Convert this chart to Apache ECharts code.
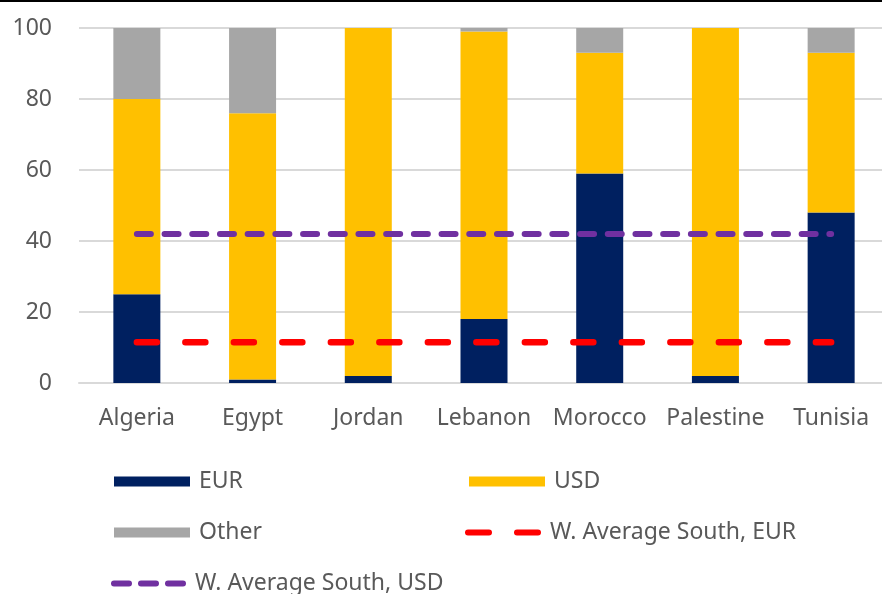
<!DOCTYPE html>
<html>
<head>
<meta charset="utf-8">
<script src="https://cdn.jsdelivr.net/npm/echarts@6/dist/echarts.min.js"></script>
<style>
  html, body { margin: 0; padding: 0; background: #fff; overflow: hidden; }
  #chart { width: 890px; height: 594px; }
</style>
</head>
<body>
<div id="chart"></div>
<script>
var countries = ['Algeria', 'Egypt', 'Jordan', 'Lebanon', 'Morocco', 'Palestine', 'Tunisia'];
var eur = [25, 1, 2, 18, 59, 2, 48];
var usd = [55, 75, 98, 81, 34, 98, 45];
var other = [20, 24, 0, 1, 7, 0, 7];
var avgEur = [11.5, 11.5, 11.5, 11.5, 11.5, 11.5, 11.5];
var avgUsd = [42, 42, 42, 42, 42, 42, 42];
var yTicks = [0, 20, 40, 60, 80, 100];

var font = 'Noto Sans';
var myChart = echarts.init(document.getElementById('chart'));

// dashed legend keys drawn as small paths
var redKey = 'path://M3,0 L24,0 A3,3 0 0 1 24,6 L3,6 A3,3 0 0 1 3,0 Z M52,0 L73,0 A3,3 0 0 1 73,6 L52,6 A3,3 0 0 1 52,0 Z';
var purpleKey = 'path://M3,0 L18,0 A3,3 0 0 1 18,6 L3,6 A3,3 0 0 1 3,0 Z M30,0 L45,0 A3,3 0 0 1 45,6 L30,6 A3,3 0 0 1 30,0 Z M57,0 L72,0 A3,3 0 0 1 72,6 L57,6 A3,3 0 0 1 57,0 Z';

var legendBase = {
    padding: 0,
    itemWidth: 76,
    itemHeight: 10,
    itemGap: 10,
    textStyle: { color: '#595959', fontSize: 23, fontFamily: font, padding: [0, 0, 0, 4] }
};

var option = {
    animation: false,
    grid: { left: 79, top: 28, right: 1, height: 355 },
    legend: [
        Object.assign({ left: 114, top: 470, data: [{ name: 'EUR', icon: 'rect' }] }, legendBase),
        Object.assign({ left: 469, top: 470, data: [{ name: 'USD', icon: 'rect' }] }, legendBase),
        Object.assign({ left: 114, top: 521, data: [{ name: 'Other', icon: 'rect' }] }, legendBase),
        Object.assign({ left: 465, top: 521, data: [{ name: 'W. Average South, EUR', icon: redKey }] }, legendBase, { itemHeight: 7 }),
        Object.assign({ left: 111, top: 572, data: [{ name: 'W. Average South, USD', icon: purpleKey }] }, legendBase, { itemWidth: 75, itemHeight: 6 })
    ],
    xAxis: {
        type: 'category',
        data: countries,
        axisLine: { lineStyle: { color: '#d9d9d9', width: 2 } },
        axisTick: { show: false },
        axisLabel: { color: '#595959', fontSize: 23, fontFamily: font, margin: 24, interval: 0 }
    },
    yAxis: {
        type: 'value',
        min: yTicks[0],
        max: yTicks[yTicks.length - 1],
        interval: 20,
        axisLine: { show: false },
        axisTick: { show: false },
        splitLine: { lineStyle: { color: '#d9d9d9', width: 2 } },
        axisLabel: { color: '#595959', fontSize: 23, fontFamily: font, margin: 27 }
    },
    series: [
        {
            name: 'EUR', type: 'bar', stack: 'total', barWidth: 47,
            itemStyle: { color: '#002060' }, data: eur
        },
        {
            name: 'USD', type: 'bar', stack: 'total', barWidth: 47,
            itemStyle: { color: '#ffc000' }, data: usd
        },
        {
            name: 'Other', type: 'bar', stack: 'total', barWidth: 47,
            itemStyle: { color: '#a6a6a6' }, data: other
        },
        {
            name: 'W. Average South, EUR', type: 'line', symbol: 'none',
            lineStyle: { color: '#ff0000', width: 6.5, type: [20, 28.5], cap: 'round' },
            itemStyle: { color: '#ff0000' },
            data: avgEur
        },
        {
            name: 'W. Average South, USD', type: 'line', symbol: 'none',
            lineStyle: { color: '#7030a0', width: 6, type: [14, 13.7], cap: 'round' },
            itemStyle: { color: '#7030a0' },
            data: avgUsd
        }
    ],
    graphic: [
        { type: 'line', shape: { x1: 0, y1: 1, x2: 890, y2: 1 }, style: { stroke: '#000', lineWidth: 2 } }
    ]
};
myChart.setOption(option);
</script>
</body>
</html>
